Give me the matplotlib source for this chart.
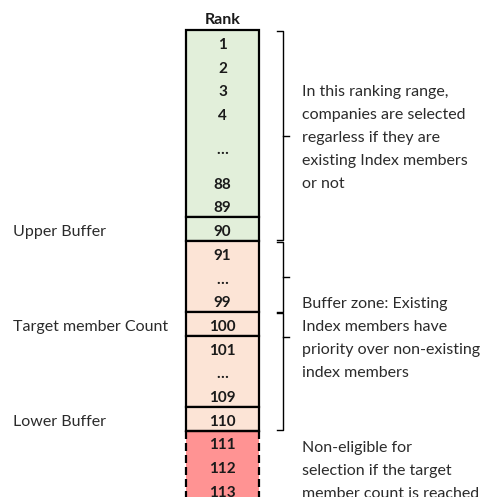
import matplotlib.pyplot as plt
from matplotlib.patches import Rectangle

plt.rcParams['font.family'] = ['Lato', 'DejaVu Sans']

# rows of the rank column, top to bottom, with their height in row units
rank_labels = ["1", "2", "3", "4", "\u2026", "88", "89",
               "90",
               "91", "\u2026", "99",
               "100",
               "101", "\u2026", "109",
               "110",
               "111", "112", "113"]
row_heights = [1, 1, 1, 1, 1.9, 1, 1,
               1,
               1, 1, 1,
               1,
               1, 1, 1,
               1,
               1, 1, 1.3]
# boxes: (first row, last row, fill, dashed sides)
boxes = [(0, 6, "#E2EFDA", False),
         (7, 7, "#E2EFDA", False),
         (8, 10, "#FCE4D6", False),
         (11, 11, "#FCE4D6", False),
         (12, 14, "#FCE4D6", False),
         (15, 15, "#FCE4D6", False),
         (16, 18, "#FF9393", True)]
side_labels = {7: "Upper Buffer", 11: "Target member Count", 15: "Lower Buffer"}
# braces: (first row, last row, where the middle tick sits as a fraction)
braces = [(0, 7, 0.5), (8, 10, 0.5), (11, 15, 0.2)]
notes = [(0, 7, ["In this ranking range,", "companies are selected",
                 "regarless if they are", "existing Index members", "or not"]),
         (8, 15, ["Buffer zone: Existing", "Index members have",
                  "priority over non-existing", "index members"]),
         (16, 18, ["Non-eligible for", "selection if the target",
                   "member count is reached"])]

unit = 23.7
top_px = 30
fig = plt.figure(figsize=(4.87, 4.97), dpi=100)
ax = fig.add_axes([0, 0, 1, 1])
ax.set_xlim(0, 487)
ax.set_ylim((497 - top_px) / unit, -top_px / unit)
ax.axis("off")

tops = [0]
for h in row_heights:
    tops.append(tops[-1] + h)

x0, x1 = 186, 259
xc = (x0 + x1) / 2
ink = "#1a1a1a"
grey = "#2b2b2b"

ax.text(xc, -0.42, "Rank", ha="center", va="center", fontsize=11.5,
        fontweight="bold", color=ink)

for first, last, fill, dashed in boxes:
    y0, y1 = tops[first], tops[last + 1]
    if dashed:
        ax.add_patch(Rectangle((x0, y0), x1 - x0, y1 - y0, facecolor=fill,
                               edgecolor="none", zorder=1))
        for xx in (x0, x1):
            ax.plot([xx, xx], [y0, y1], color="black", lw=1.6,
                    linestyle=(0, (3.6, 1.8)), zorder=2)
        ax.plot([x0, x1], [y0, y0], color="black", lw=1.6, zorder=2)
    else:
        ax.add_patch(Rectangle((x0, y0), x1 - x0, y1 - y0, facecolor=fill,
                               edgecolor="black", lw=1.6, zorder=2))

for i, lab in enumerate(rank_labels):
    h = row_heights[i] if i < len(row_heights) - 1 else 1
    yc = tops[i] + h / 2 + 0.13
    ax.text(xc, yc, lab, ha="center", va="center", fontsize=11,
            fontweight="bold", color=ink, zorder=3)

for i, lab in side_labels.items():
    ax.text(13, tops[i] + 0.63, lab, ha="left", va="center", fontsize=11.5,
            color=grey)

bx = 283
for first, last, frac in braces:
    y0, y1 = tops[first] + 0.05, tops[last + 1] - 0.02
    ym = y0 + frac * (y1 - y0)
    ax.plot([bx - 6, bx, bx, bx - 6], [y0, y0, y1, y1], color="black", lw=1.0)
    ax.plot([bx, bx + 6], [ym, ym], color="black", lw=1.0)

for first, last, lines in notes:
    ym = (tops[first] + tops[last + 1]) / 2
    if first == 16:
        ystart = tops[first] + 0.75
    else:
        ystart = ym - (len(lines) - 1) / 2 * 0.97 + 0.12
    for k, line in enumerate(lines):
        ax.text(302, ystart + k * 0.97, line, ha="left", va="center",
                fontsize=11.5, color=grey)

fig.savefig("out.png", dpi=100)
